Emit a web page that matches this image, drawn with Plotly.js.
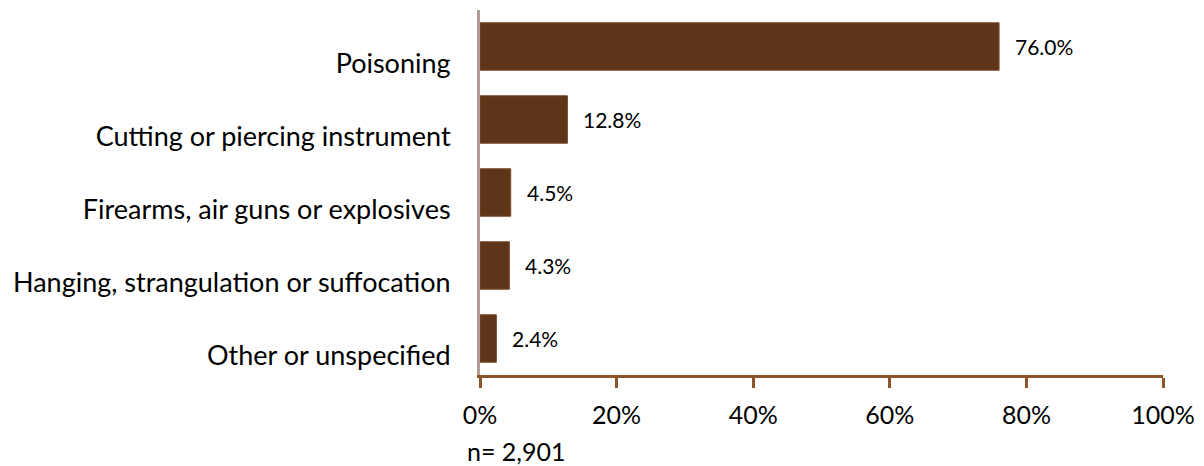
<!DOCTYPE html>
<html>
<head>
<meta charset="utf-8">
<script src="https://cdn.plot.ly/plotly-3.0.1.min.js"></script>
<style>html,body{margin:0;padding:0;background:#fff;}#chart{width:1204px;height:466px;}</style>
</head>
<body>
<div id="chart"></div>
<script>
var categories = ["Poisoning", "Cutting or piercing instrument", "Firearms, air guns or explosives", "Hanging, strangulation or suffocation", "Other or unspecified"];
var values = [76.0, 12.8, 4.5, 4.3, 2.4];
var valueLabels = ["76.0%", "12.8%", "4.5%", "4.3%", "2.4%"];
var tickVals = [0, 20, 40, 60, 80, 100];
var tickText = ["0%", "20%", "40%", "60%", "80%", "100%"];
var noteText = "n= 2,901";

var FONT = "Lato, 'Liberation Sans', sans-serif";

var trace = {
  type: "bar",
  orientation: "h",
  x: values,
  y: categories,
  marker: {color: "#5E3519", line: {color: "#7A4A28", width: 1}},
  hoverinfo: "none",
  showlegend: false
};

var annotations = values.map(function (v, i) {
  return {
    x: v, y: categories[i], xref: "x", yref: "y",
    text: valueLabels[i], showarrow: false,
    xanchor: "left", yanchor: "middle", xshift: 14,
    font: {family: FONT, size: 21, color: "#000"}
  };
});
annotations.push({
  x: 0, y: 0, xref: "x", yref: "paper",
  text: noteText, showarrow: false,
  xanchor: "center", yanchor: "middle", xshift: 36, yshift: -76,
  font: {family: FONT, size: 25, color: "#000"}
});

var layout = {
  width: 1204, height: 466,
  margin: {l: 480, r: 41, t: 10, b: 91, pad: 0},
  paper_bgcolor: "#fff", plot_bgcolor: "#fff",
  bargap: 0.35,
  xaxis: {
    range: [0, 100], tickvals: tickVals, ticktext: tickText,
    showgrid: false, zeroline: false,
    showline: true, linecolor: "#8C5428", linewidth: 3,
    ticks: "outside", ticklen: 10, tickwidth: 3, tickcolor: "#8C5428",
    tickfont: {family: FONT, size: 25, color: "#000"},
    ticklabelstandoff: 6,
    fixedrange: true
  },
  yaxis: {
    type: "category", autorange: "reversed",
    showgrid: false, zeroline: false,
    showline: true, linecolor: "#B19C98", linewidth: 3,
    ticks: "",
    tickfont: {family: FONT, size: 27, color: "#000"},
    ticklabelstandoff: 21,
    ticklabelshift: -17,
    fixedrange: true
  },
  annotations: annotations
};

Plotly.newPlot("chart", [trace], layout, {displayModeBar: false, staticPlot: true});
</script>
</body>
</html>
